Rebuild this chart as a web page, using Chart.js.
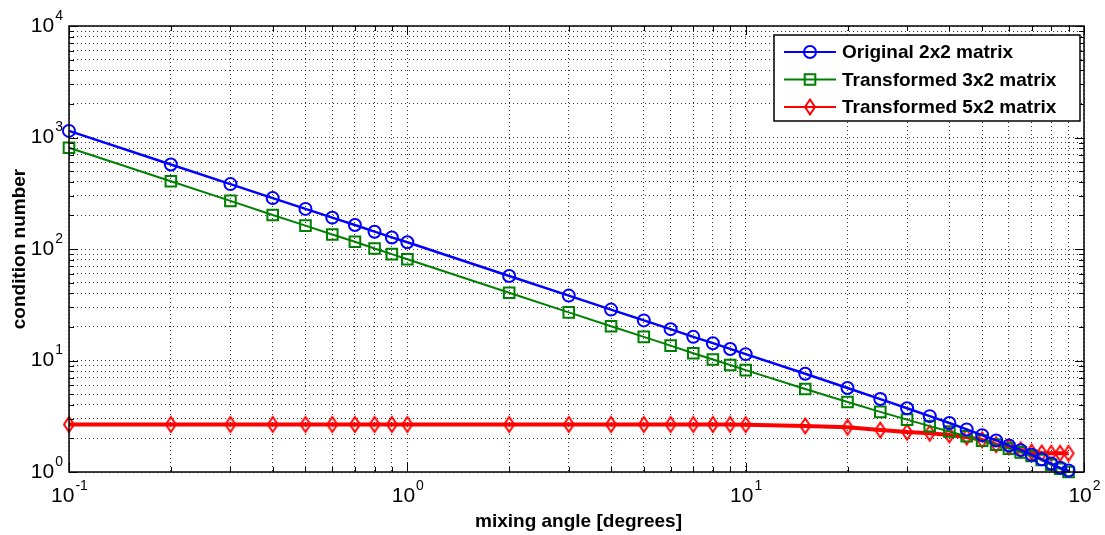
<!DOCTYPE html>
<html>
<head>
<meta charset="utf-8">
<script src="https://cdn.jsdelivr.net/npm/chart.js@4"></script>
<style>
html, body { margin: 0; padding: 0; background: #fff; }
</style>
</head>
<body>
<canvas id="condChart" width="1105" height="535"></canvas>
<script>
// mixing angle in degrees
const angles = [0.1, 0.2, 0.3, 0.4, 0.5, 0.6, 0.7, 0.8, 0.9, 1,
  2, 3, 4, 5, 6, 7, 8, 9, 10,
  15, 20, 25, 30, 35, 40, 45, 50, 55, 60, 65, 70, 75, 80, 85, 90];

// condition numbers
const original2x2 = [1146, 573, 382, 286, 229, 191, 164, 143, 127, 115,
  57.3, 38.2, 28.6, 22.9, 19.1, 16.3, 14.3, 12.7, 11.4,
  7.6, 5.67, 4.51, 3.73, 3.17, 2.75, 2.41, 2.14, 1.92, 1.73, 1.57, 1.43, 1.30, 1.19, 1.09, 1.03];
const transformed3x2 = [810, 405, 270, 202, 162, 135, 116, 101, 90, 81,
  40.5, 27.0, 20.3, 16.3, 13.6, 11.6, 10.2, 9.1, 8.2,
  5.55, 4.24, 3.46, 2.95, 2.58, 2.31, 2.09, 1.91, 1.76, 1.62, 1.50, 1.39, 1.28, 1.16, 1.07, 1.0];
const transformed5x2 = [2.67, 2.67, 2.67, 2.67, 2.67, 2.67, 2.67, 2.67, 2.67, 2.67,
  2.67, 2.67, 2.67, 2.67, 2.67, 2.67, 2.67, 2.67, 2.66,
  2.59, 2.52, 2.38, 2.28, 2.23, 2.15, 2.06, 1.94, 1.76, 1.68, 1.58, 1.51, 1.48, 1.47, 1.47, 1.47];

const seriesNames = ["Original 2x2 matrix", "Transformed 3x2 matrix", "Transformed 5x2 matrix"];

// decade ticks and their exponents
const xDecades = [0.1, 1, 10, 100];
const xExponents = ["-1", "0", "1", "2"];
const yDecades = [1, 10, 100, 1000, 10000];
const yExponents = ["0", "1", "2", "3", "4"];
const minorSteps = [1, 2, 3, 4, 5, 6, 7, 8, 9];

function gridValues(decades) {
  const out = [];
  decades.forEach((d, i) => {
    if (i === decades.length - 1) { out.push(d); return; }
    minorSteps.forEach(m => out.push(+(d * m).toPrecision(3)));
  });
  return out;
}
const xGrid = gridValues(xDecades);
const yGrid = gridValues(yDecades);

function toPoints(vals) {
  return angles.map((a, i) => ({ x: a, y: vals[i] }));
}

// tall matlab-like diamond marker
function diamondMarker(color) {
  const c = document.createElement("canvas");
  c.width = 14; c.height = 20;
  const g = c.getContext("2d");
  g.strokeStyle = color;
  g.lineWidth = 2;
  g.beginPath();
  g.moveTo(7, 2.5); g.lineTo(12, 10); g.lineTo(7, 17.5); g.lineTo(2, 10);
  g.closePath();
  g.stroke();
  return c;
}
const redDiamond = diamondMarker("#ff0000");

const FONT = "'Liberation Sans', Arial, sans-serif";

const matlabDecor = {
  id: "matlabDecor",
  afterDraw(chart) {
    const ctx = chart.ctx;
    const a = chart.chartArea;
    const xs = chart.scales.x, ys = chart.scales.y;
    ctx.save();

    // axes box
    ctx.strokeStyle = "#000";
    ctx.lineWidth = 1.5;
    ctx.strokeRect(a.left, a.top, a.right - a.left, a.bottom - a.top);

    // inward ticks
    ctx.lineWidth = 1;
    xGrid.forEach(v => {
      const px = Math.round(xs.getPixelForValue(v)) + 0.5;
      const len = xDecades.includes(v) ? 9 : 5;
      ctx.beginPath();
      ctx.moveTo(px, a.bottom); ctx.lineTo(px, a.bottom - len);
      ctx.moveTo(px, a.top); ctx.lineTo(px, a.top + len);
      ctx.stroke();
    });
    yGrid.forEach(v => {
      const py = Math.round(ys.getPixelForValue(v)) + 0.5;
      const len = yDecades.includes(v) ? 9 : 5;
      ctx.beginPath();
      ctx.moveTo(a.left, py); ctx.lineTo(a.left + len, py);
      ctx.moveTo(a.right, py); ctx.lineTo(a.right - len, py);
      ctx.stroke();
    });

    // tick labels 10^n
    ctx.fillStyle = "#000";
    ctx.textBaseline = "middle";
    const baseFont = "21px " + FONT, expFont = "14px " + FONT;
    xDecades.forEach((v, i) => {
      const px = xs.getPixelForValue(v);
      ctx.font = baseFont;
      const wb = ctx.measureText("10").width;
      ctx.font = expFont;
      const we = ctx.measureText(xExponents[i]).width;
      const x0 = px - (wb + we) / 2;
      ctx.textAlign = "left";
      ctx.font = baseFont;
      ctx.fillText("10", x0, a.bottom + 24);
      ctx.font = expFont;
      ctx.fillText(xExponents[i], x0 + wb + 1, a.bottom + 14);
    });
    yDecades.forEach((v, i) => {
      const py = ys.getPixelForValue(v);
      ctx.font = expFont;
      const we = ctx.measureText(yExponents[i]).width;
      ctx.font = baseFont;
      const wb = ctx.measureText("10").width;
      const xr = a.left - 6;
      ctx.textAlign = "left";
      ctx.fillText("10", xr - we - 1 - wb, py);
      ctx.font = expFont;
      ctx.fillText(yExponents[i], xr - we, py - 10);
    });

    // axis titles
    ctx.font = "bold 19px " + FONT;
    ctx.textAlign = "center";
    ctx.fillText("mixing angle [degrees]", (a.left + a.right) / 2 + 2, 522);
    ctx.save();
    ctx.translate(20, (a.top + a.bottom) / 2);
    ctx.rotate(-Math.PI / 2);
    ctx.fillText("condition number", 0, 0);
    ctx.restore();

    // legend
    const lx = 774, ly = 35, lw = 306, lh = 86;
    ctx.fillStyle = "#fff";
    ctx.fillRect(lx, ly, lw, lh);
    ctx.strokeStyle = "#000";
    ctx.lineWidth = 1.5;
    ctx.strokeRect(lx, ly, lw, lh);
    ctx.font = "bold 19px " + FONT;
    ctx.textAlign = "left";
    chart.data.datasets.forEach((ds, i) => {
      const cy = ly + 17 + i * 27.5;
      ctx.strokeStyle = ds.borderColor;
      ctx.lineWidth = 2;
      ctx.beginPath();
      ctx.moveTo(784, cy); ctx.lineTo(836, cy);
      ctx.stroke();
      ctx.fillStyle = "rgba(0,0,0,0)";
      Chart.helpers.drawPoint(ctx, {
        pointStyle: ds.pointStyle, radius: ds.pointRadius,
        borderWidth: ds.pointBorderWidth, rotation: 0
      }, 810, cy);
      ctx.fillStyle = "#000";
      ctx.fillText(ds.label, 842, cy + 1);
    });
    ctx.restore();
  }
};

const gridStyle = {
  color: "rgba(0,0,0,0.8)",
  lineWidth: 1,
  drawTicks: false
};

new Chart(document.getElementById("condChart"), {
  type: "line",
  data: {
    datasets: [
      {
        label: seriesNames[0],
        data: toPoints(original2x2),
        borderColor: "#0000ff",
        backgroundColor: "rgba(0,0,0,0)",
        borderWidth: 2.5,
        pointStyle: "circle",
        pointRadius: 6,
        pointBorderWidth: 2,
        pointBackgroundColor: "rgba(0,0,0,0)",
        clip: false
      },
      {
        label: seriesNames[1],
        data: toPoints(transformed3x2),
        borderColor: "#008000",
        backgroundColor: "rgba(0,0,0,0)",
        borderWidth: 2,
        pointStyle: "rect",
        pointRadius: 7.5,
        pointBorderWidth: 2,
        pointBackgroundColor: "rgba(0,0,0,0)",
        clip: false
      },
      {
        label: seriesNames[2],
        data: toPoints(transformed5x2),
        borderColor: "#ff0000",
        backgroundColor: "rgba(0,0,0,0)",
        borderWidth: 4,
        pointStyle: redDiamond,
        pointRadius: 7,
        pointBorderWidth: 2,
        clip: false
      }
    ]
  },
  options: {
    responsive: false,
    animation: false,
    layout: { padding: { left: 69, top: 26, right: 21, bottom: 63 } },
    plugins: {
      legend: { display: false },
      tooltip: { enabled: false }
    },
    elements: { line: { tension: 0 } },
    scales: {
      x: {
        type: "logarithmic",
        min: 0.1,
        max: 100,
        afterBuildTicks: scale => { scale.ticks = xGrid.map(v => ({ value: v })); },
        ticks: { display: false },
        grid: gridStyle,
        border: { display: false, dash: [1, 3] }
      },
      y: {
        type: "logarithmic",
        min: 1,
        max: 10000,
        afterBuildTicks: scale => { scale.ticks = yGrid.map(v => ({ value: v })); },
        ticks: { display: false },
        grid: gridStyle,
        border: { display: false, dash: [1, 3] }
      }
    }
  },
  plugins: [matlabDecor]
});
</script>
</body>
</html>
